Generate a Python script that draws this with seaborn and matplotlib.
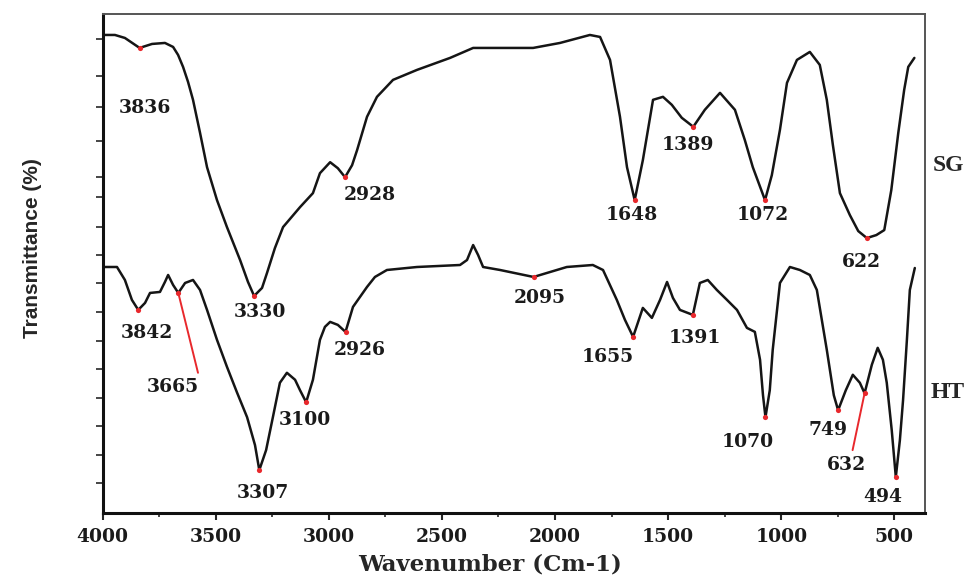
import numpy as np
import pandas as pd
import matplotlib
matplotlib.use("Agg")
import matplotlib.pyplot as plt
import seaborn as sns

# ---------------- data ----------------
sg_wn = [4000, 3945, 3901, 3836, 3781, 3724, 3688, 3666, 3644, 3622, 3600, 3569, 3538,
         3494, 3450, 3392, 3357, 3330, 3295, 3273, 3238, 3202, 3127, 3070, 3039, 2994,
         2960, 2928, 2897, 2875, 2831, 2787, 2716, 2610, 2464, 2362, 2230, 2097, 1978,
         1846, 1801, 1757, 1713, 1682, 1648, 1612, 1567, 1523, 1484, 1440, 1389, 1338,
         1271, 1205, 1161, 1126, 1072, 1042, 1006, 975, 931, 874, 830, 799, 772, 741,
         697, 660, 622, 580, 545, 514, 483, 457, 439, 412]
sg_t = [95.8, 95.8, 95.2, 93.2, 94.0, 94.2, 93.4, 91.8, 89.4, 86.4, 82.8, 76.2, 69.3,
        62.7, 57.3, 50.7, 46.3, 43.5, 45.1, 48.1, 53.1, 57.3, 61.3, 64.1, 68.1, 70.3,
        69.1, 67.3, 69.7, 72.7, 79.4, 83.4, 86.8, 88.8, 91.2, 93.2, 93.2, 93.2, 94.2,
        95.8, 95.4, 90.8, 79.4, 69.3, 62.7, 70.7, 82.8, 83.4, 81.8, 79.2, 77.4, 80.8,
        84.2, 80.8, 74.7, 69.3, 62.7, 67.7, 76.8, 86.2, 90.8, 92.4, 89.8, 82.8, 73.7, 64.1,
        59.7, 56.5, 55.1, 55.7, 56.7, 64.7, 76.2, 84.8, 89.4, 91.2]

ht_wn = [4000, 3936, 3901, 3870, 3842, 3812, 3790, 3746, 3724, 3710, 3688, 3665, 3635,
         3600, 3569, 3538, 3494, 3450, 3406, 3361, 3326, 3307, 3277, 3247, 3216, 3185,
         3149, 3127, 3100, 3070, 3039, 3017, 2994, 2960, 2926, 2893, 2862, 2831, 2796,
         2743, 2610, 2420, 2389, 2362, 2340, 2318, 2243, 2095, 1948, 1833, 1788, 1727,
         1691, 1655, 1612, 1572, 1536, 1505, 1479, 1448, 1391, 1360, 1325, 1285, 1240,
         1196, 1152, 1117, 1094, 1081, 1070, 1051, 1038, 1006, 962, 918, 874, 843, 799,
         768, 749, 715, 684, 653, 632, 600, 574, 551, 534, 512, 494, 476, 462, 445, 432, 410]
ht_t = [49.3, 49.3, 46.7, 42.7, 40.7, 42.1, 44.1, 44.3, 46.3, 47.7, 45.7, 44.1, 46.1,
        46.7, 44.7, 40.7, 34.7, 29.3, 24.2, 19.2, 13.6, 8.6, 12.6, 19.2, 26.1, 28.1,
        26.7, 24.6, 22.2, 26.7, 34.7, 37.3, 38.3, 37.7, 36.3, 41.3, 43.3, 45.3, 47.3,
        48.7, 49.3, 49.7, 50.7, 53.7, 51.7, 49.3, 48.7, 47.3, 49.3, 49.7, 48.7, 42.7,
        38.7, 35.3, 41.1, 39.1, 42.7, 46.3, 43.1, 40.7, 39.7, 46.1, 46.7, 44.7, 42.7,
        40.7, 37.1, 36.3, 30.7, 23.6, 19.2, 24.6, 32.7, 46.1, 49.3, 48.7, 47.7, 44.7, 32.7,
        23.6, 20.6, 24.6, 27.7, 26.1, 24.0, 29.7, 33.1, 30.7, 26.1, 16.6, 7.2, 14.6, 22.6,
        34.7, 44.7, 49.1]

sg_peaks = [3836, 3330, 2928, 1648, 1389, 1072, 622]
sg_peak_t = [93.2, 43.5, 67.3, 62.7, 77.4, 62.7, 55.1]
ht_peaks = [3842, 3665, 3307, 3100, 2926, 2095, 1655, 1391, 1070, 749, 632, 494]
ht_peak_t = [40.7, 44.1, 8.6, 22.2, 36.3, 47.3, 35.3, 39.7, 19.2, 20.6, 24.0, 7.2]

x_ticks = [4000, 3500, 3000, 2500, 2000, 1500, 1000, 500]
y_ticks = [95.0, 87.6, 81.4, 74.5, 67.3, 63.3, 57.3, 51.7, 46.1, 40.3, 34.5, 28.9,
           23.0, 17.4, 11.6, 6.0]
series_names = ["SG", "HT"]

# label placement (text centre in data coords) for each peak label
sg_label_pos = [(3812, 81.2), (3304, 40.3), (2818, 63.7), (1660, 59.7),
                (1412, 73.7), (1082, 59.7), (645, 50.3)]
ht_label_pos = [(3803, 36.1), (3688, 25.3), (3291, 4.0), (3105, 18.6), (2862, 32.7),
                (2067, 43.1), (1766, 31.3), (1382, 35.1), (1147, 14.2), (794, 16.6),
                (710, 9.6), (551, 3.2)]
leader_lines = {3665: (3578, 28.1), 632: (685, 12.6)}

# ---------------- figure ----------------
sns.set_style("ticks")
num_font = "DejaVu Serif"

df = pd.concat([
    pd.DataFrame({"wn": sg_wn, "T": sg_t, "sample": series_names[0]}),
    pd.DataFrame({"wn": ht_wn, "T": ht_t, "sample": series_names[1]}),
])

fig = plt.figure(figsize=(9.77, 5.83), dpi=100)
ax = fig.add_axes([102.5 / 977, 70 / 583, 822.5 / 977, 499 / 583])

sns.lineplot(data=df, x="wn", y="T", hue="sample", units="sample", estimator=None,
             sort=False, palette={"SG": "#151515", "HT": "#151515"}, linewidth=1.8,
             legend=False, ax=ax)

ax.scatter(sg_peaks, sg_peak_t, s=14, color="#e8282c", zorder=3, linewidths=0)
ax.scatter(ht_peaks, ht_peak_t, s=14, color="#e8282c", zorder=3, linewidths=0)

for lbl, (x, y) in zip(sg_peaks, sg_label_pos):
    ax.text(x, y, str(lbl), ha="center", va="center", fontsize=13.5,
            fontweight="bold", family=num_font, color="#1a1a1a")
for lbl, (x, y) in zip(ht_peaks, ht_label_pos):
    ax.text(x, y, str(lbl), ha="center", va="center", fontsize=13.5,
            fontweight="bold", family=num_font, color="#1a1a1a")
for wn, (x2, y2) in leader_lines.items():
    i = ht_peaks.index(wn)
    ax.plot([wn, x2], [ht_peak_t[i], y2], color="#e8282c", lw=1.4, zorder=3)

ax.text(330, 69.7, series_names[0], ha="left", va="center", fontsize=17,
        fontweight="bold", family="Liberation Serif", clip_on=False)
ax.text(338, 24.2, series_names[1], ha="left", va="center", fontsize=17,
        fontweight="bold", family="Liberation Serif", clip_on=False)

ax.set_xlim(4000, 365)
ax.set_ylim(0, 100)
ax.set_xticks(x_ticks)
ax.set_xticks([t - 250 for t in x_ticks[:-1]], minor=True)
ax.set_xticklabels([str(t) for t in x_ticks], fontsize=13.5, fontweight="bold",
                   family=num_font, color="#1a1a1a")
ax.set_yticks(y_ticks)
ax.set_yticklabels([])
ax.tick_params(axis="x", which="major", direction="out", length=5, width=1.5, pad=6)
ax.tick_params(axis="x", which="minor", direction="out", length=3, width=1.2)
ax.tick_params(axis="y", which="major", direction="out", length=5, width=1.2)

for side in ["left", "bottom"]:
    ax.spines[side].set_linewidth(2.2)
    ax.spines[side].set_color("#111111")
for side in ["top", "right"]:
    ax.spines[side].set_visible(True)
    ax.spines[side].set_linewidth(1.4)
    ax.spines[side].set_color("#555555")

ax.set_xlabel("Wavenumber (Cm-1)", fontsize=16.5, fontweight="bold", family=num_font)
ax.xaxis.set_label_coords(0.471, -0.082)
ax.set_ylabel("Transmittance (%)", fontsize=15, fontweight="bold",
              family=["Liberation Sans", "DejaVu Sans"])
ax.yaxis.set_label_coords(-0.074, 0.53)

fig.savefig("out.png", dpi=100, facecolor="white")
